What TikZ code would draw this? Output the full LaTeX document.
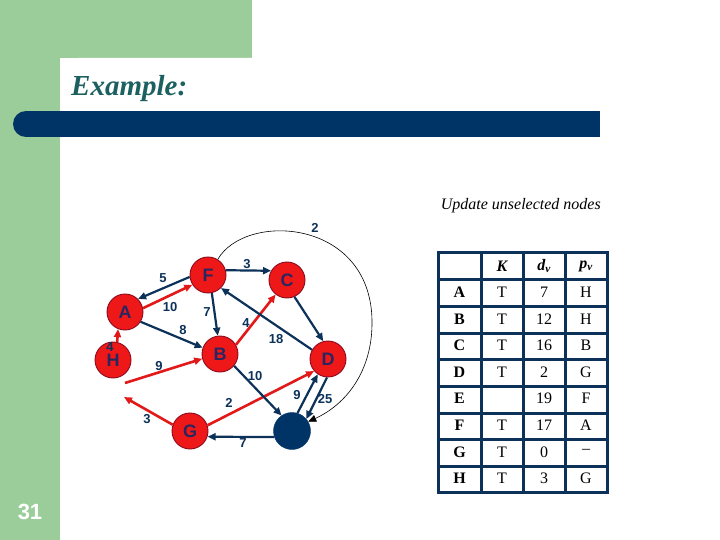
\documentclass[tikz,border=0pt]{standalone}
\usepackage{fontspec}
\setmainfont{Liberation Serif}
\setsansfont{Liberation Sans}
\usetikzlibrary{arrows.meta}
\definecolor{bggreen}{RGB}{155,205,155}
\definecolor{barblue}{RGB}{0,51,102}
\definecolor{titleteal}{RGB}{28,96,96}
\definecolor{nodered}{RGB}{238,24,24}
\definecolor{nodeborder}{RGB}{140,10,30}
\definecolor{navy}{RGB}{12,50,90}
\definecolor{letter}{RGB}{40,38,95}
\definecolor{edgered}{RGB}{225,25,25}
\begin{document}
\begin{tikzpicture}[x=1pt,y=-1pt,
  vtx/.style={circle,minimum size=36pt,inner sep=0pt,fill=nodered,draw=nodeborder,line width=0.9pt,
    font=\sffamily\bfseries\fontsize{18}{18}\selectfont,text=letter},
  blk/.style={circle,minimum size=37pt,inner sep=0pt,fill=barblue,draw=barblue},
  nav/.style={draw=navy,line width=2.2pt,-{Triangle[length=8pt,width=7pt]}},
  redarr/.style={draw=edgered,line width=2.6pt,-{Triangle[length=8pt,width=7pt]}},
  thin/.style={draw=black,line width=0.6pt,-{Triangle[length=8pt,width=7pt]}},
  wt/.style={font=\sffamily\bfseries\fontsize{13}{13}\selectfont,text=navy,inner sep=0pt},
  tbl/.style={draw=navy,line width=3pt,line cap=rect},
  cell/.style={font=\fontsize{16}{16}\selectfont,inner sep=0pt},
  hcell/.style={font=\bfseries\itshape\fontsize{16}{16}\selectfont,inner sep=0pt},
  rcell/.style={font=\bfseries\fontsize{16}{16}\selectfont,inner sep=0pt}]
\useasboundingbox (0,0) rectangle (720,540);
% background
\fill[bggreen] (0,0) rectangle (252,58);
\fill[bggreen] (0,0) rectangle (60,540);
\fill[white, rounded corners=18pt] (60,58) rectangle (720,540);
\fill[barblue] (26,111) rectangle (600,137);
\fill[barblue] (26,124) circle (13);
\node[anchor=base west,font=\bfseries\itshape\fontsize{29}{29}\selectfont,text=titleteal,inner sep=0pt] (title) at (71,96) {Example:};
\node[anchor=base east,font=\itshape\fontsize{16}{16}\selectfont,inner sep=0pt] (upd) at (601,210) {Update unselected nodes};
\node[text=white,font=\sffamily\bfseries\fontsize{22}{22}\selectfont] (pg) at (30,512) {31};
% graph nodes
\node[vtx] (F) at (208,275) {F};
\node[vtx] (C) at (287,280) {C};
\node[vtx] (A) at (125,312) {A};
\node[vtx] (H) at (113,360) {H};
\node[vtx] (B) at (220,354) {B};
\node[vtx] (D) at (328,359) {D};
\node[vtx] (G) at (190,431) {G};
\node[blk] (E) at (292,431) {};
\coordinate (h1) at (125,383);
\coordinate (h2) at (124,397);
% edges
\draw[nav] (F.186) -- (A.45);
\draw[redarr] (A.12) -- (F.212);
\draw[nav] (F.15) -- (C.150);
\draw[nav] (F.282) -- (B.97);
\draw[nav] (A.-32) -- (B.160);
\draw[redarr] (B.30) -- (C.232);
\draw[nav] (D.150) -- (F.-45);
\draw[nav] (C.-66) -- (D.105);
\draw[redarr] (H.77) -- (A.-112);
\draw[redarr] (h1) -- (B.195);
\draw[redarr] (G.160) -- (h2);
\draw[redarr] (G.18) -- (D.221);
\draw[nav] (B.-40) -- (E.124);
\draw[nav] (E.199) -- (G.-18);
\draw[nav] (E.73) -- (D.236);
\draw[nav] (D.267) -- (E.40);
\draw[thin] (F.58) .. controls (245,212) and (370,218) .. (372,320)
  .. controls (373,372) and (345,405) .. (E.30);
% weights
\node[wt] (w1) at (163,278) {5};
\node[wt] (w2) at (170,307) {10};
\node[wt] (w3) at (207,312) {7};
\node[wt] (w4) at (183,330) {8};
\node[wt] (w5) at (247,264) {3};
\node[wt] (w6) at (246,323) {4};
\node[wt] (w7) at (276,339) {18};
\node[wt] (w8) at (159,366) {9};
\node[wt] (w9) at (147,419) {3};
\node[wt] (w10) at (229,403) {2};
\node[wt] (w11) at (255,376) {10};
\node[wt] (w12) at (297,395) {9};
\node[wt] (w13) at (325,399) {25};
\node[wt] (w14) at (243,443) {7};
\node[wt] (w15) at (315,228) {2};
\node[wt] (w16) at (110,347) {4};
% table
\foreach \y in {252,279,306,333,359,386,413,439,466,492} \draw[tbl] (438,\y) -- (607,\y);
\foreach \x in {438,481,523,565,607} \draw[tbl] (\x,252) -- (\x,492);
\node[hcell] (hk) at (502,266) {K};
\node[hcell] (hd) at (544,266) {d\textsubscript{v}};
\node[hcell] (hp) at (586,266) {p\textsubscript{v}};
\foreach \r/\k/\d/\p [count=\i] in {A/T/7/H, B/T/12/H, C/T/16/B, D/T/2/G, E//19/F, F/T/17/A, G/T/0/--, H/T/3/G}{
  \pgfmathsetmacro{\yy}{279+26.6*(\i-1)+13.3}
  \node[rcell] (r\i) at (459.5,\yy) {\r};
  \node[cell] (k\i) at (502,\yy) {\k};
  \node[cell] (d\i) at (544,\yy) {\d};
  \node[cell] (p\i) at (586,\yy) {\p};
}
\end{tikzpicture}
\end{document}
